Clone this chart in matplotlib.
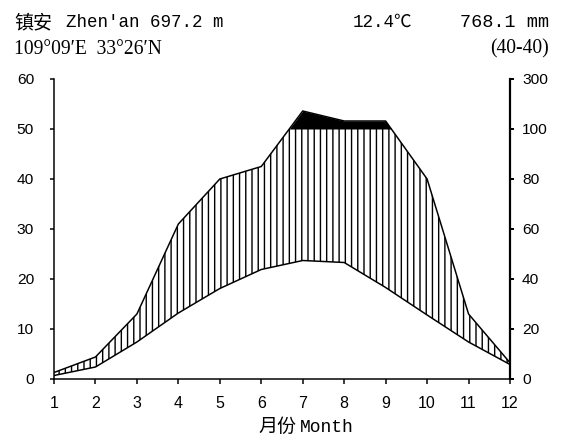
import matplotlib
matplotlib.use('Agg')
import matplotlib.pyplot as plt
import numpy as np

DPI = 112
W, H = 569, 439


def pt(px):
    return px * 72.0 / DPI


# ---- data ----
months = np.arange(1, 13)
temperature = [0.7, 2.4, 7.4, 13.2, 18.1, 21.9, 23.7, 23.3, 18.3, 12.8, 7.4, 2.9]   # degC
precipitation = [2.6, 8.8, 26, 62, 80, 85, 172, 132, 132, 80, 26, 6.5]            # mm
month_labels = [str(m) for m in months]
left_ticks = [0, 10, 20, 30, 40, 50, 60]
right_tick_labels = ['0', '20', '40', '60', '80', '100', '300']

station_cn = '镇安'
station_info = "Zhen'an 697.2 m"
mean_temp = '12.4℃'
annual_prec = '768.1 mm'
coords = '109°09′E  33°26′N'
years = '(40-40)'
xlabel_cn = '月份'
xlabel_en = 'Month'


def to_scale(p):
    p = np.asarray(p, float)
    return np.where(p <= 100, p / 2.0, 50 + (p - 100) / 20.0)


plt.rcParams['hatch.linewidth'] = pt(1.4)

fig = plt.figure(figsize=(W / DPI, H / DPI), dpi=DPI)
ax = fig.add_axes([54 / W, 1 - 379 / H, (510 - 54) / W, 300 / H])

t = np.asarray(temperature, float)
p = to_scale(precipitation)

xf = np.linspace(1, 12, 2201)
tf = np.interp(xf, months, t)
pf = np.interp(xf, months, p)

# humid period hatching (vertical lines)
ax.fill_between(xf, tf, np.minimum(pf, 50), where=pf >= tf, facecolor='none',
                edgecolor='black', hatch='|||', linewidth=0)
# > 100 mm in black
ax.fill_between(xf, 50, pf, where=pf > 50, color='black', linewidth=0, interpolate=True)

ax.plot(months, t, color='black', lw=pt(1.5))
ax.plot(months, p, color='black', lw=pt(1.5))

ax.set_xlim(1, 12)
ax.set_ylim(0, 60)
ax.set_xticks(months)
ax.set_xticklabels(month_labels, family='Liberation Sans', fontsize=pt(16))
ax.set_yticks(left_ticks)
ax.set_yticklabels([str(v) for v in left_ticks], family='Liberation Sans', fontsize=pt(15.5))
ax.tick_params(axis='x', direction='out', length=pt(5), width=pt(1.5), pad=pt(12))
ax.tick_params(axis='y', direction='out', length=pt(4), width=pt(1.5), pad=pt(16))

ax.spines['top'].set_visible(False)
ax.spines['right'].set_visible(False)
ax.spines['left'].set_linewidth(pt(1.5))
ax.spines['bottom'].set_linewidth(pt(1.5))

ax2 = ax.twinx()
ax2.set_ylim(0, 60)
ax2.set_yticks(left_ticks)
ax2.set_yticklabels(right_tick_labels, family='Liberation Sans', fontsize=pt(15.5))
ax2.tick_params(axis='y', direction='out', length=pt(4), width=pt(2), pad=pt(8))
for s in ['top', 'left', 'bottom']:
    ax2.spines[s].set_visible(False)
ax2.spines['right'].set_linewidth(pt(2.2))


def ftext(x, y, s, **kw):
    fig.text(x / W, 1 - y / H, s, va='baseline', **kw)


mono = ['Liberation Mono', 'Noto Sans CJK SC']
serif = ['Liberation Serif', 'DejaVu Serif']
cjk = ['Noto Sans CJK SC', 'DejaVu Sans']

ftext(14, 28, station_cn, family=cjk, fontsize=pt(19))
ftext(66, 27, station_info, family=mono, fontsize=pt(17.5))
ftext(412, 27, mean_temp, family=mono, fontsize=pt(17.5), ha='right')
ftext(549, 27, annual_prec, family=mono, fontsize=pt(18.5), ha='right')
ftext(14, 53.5, coords, family=serif, fontsize=pt(19.5))
ftext(549, 53.5, years, family=serif, fontsize=pt(19.5), ha='right')
ftext(296, 432, xlabel_cn, family=cjk, fontsize=pt(19), ha='right')
ftext(300, 432, xlabel_en, family=mono, fontsize=pt(18), ha='left')

fig.savefig('out.png', dpi=DPI)
